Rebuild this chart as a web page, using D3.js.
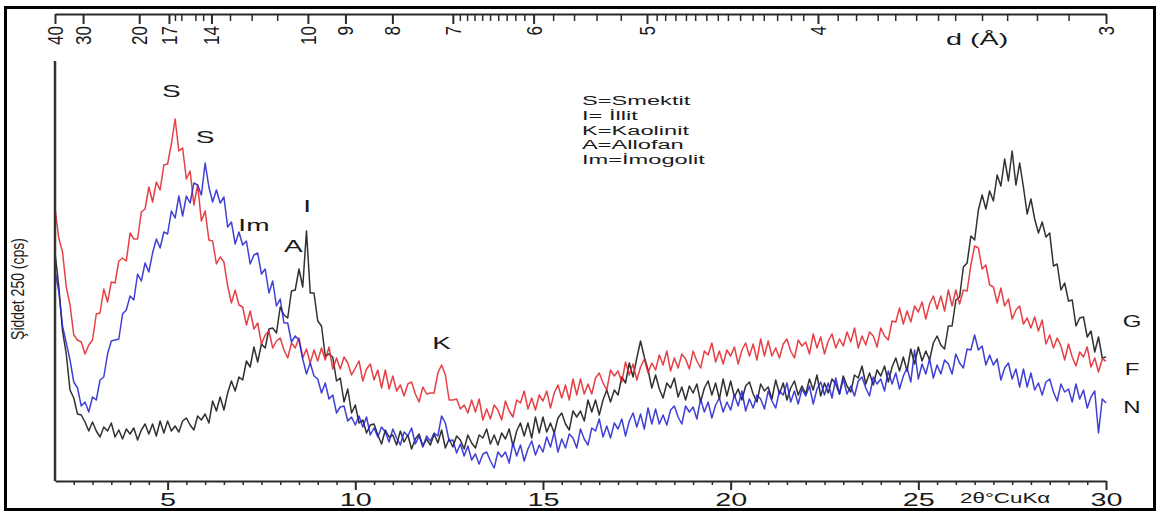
<!DOCTYPE html>
<html>
<head>
<meta charset="utf-8">
<script src="https://cdn.jsdelivr.net/npm/d3@7"></script>
<style>
  body { margin: 0; background: #fff; }
  svg { display: block; }
  text { font-family: "Liberation Sans", Arial, sans-serif; fill: #1a1a1a; }
  .domain, .tick line { stroke: #2a2a2a; }
</style>
</head>
<body>
<svg id="chart" width="1160" height="514"></svg>
<script>
// sampling grid of the scans, 2-theta in degrees (0.1 step)
const angles = d3.range(0, 281).map(i => 2 + i / 10);

// intensities (arbitrary units), one row per degree
const sampleG = [
  228,195,150,127,91,83,67,66,59,50,
  59,50,44,54,50,58,44,51,42,52,
  47,53,41,51,57,47,57,45,60,48,
  60,50,55,49,60,63,56,51,65,61,
  67,58,80,70,84,71,88,100,90,104,
  101,120,114,134,119,137,133,152,153,148,
  174,166,163,190,191,212,194,250,188,188,
  160,155,125,127,124,100,103,79,92,68,
  76,58,61,48,56,57,46,37,51,44,
  46,36,50,39,46,32,42,47,35,42,
  36,47,38,51,33,42,34,45,41,32,
  46,38,33,46,43,52,37,46,36,48,
  42,52,35,50,58,45,58,43,64,48,
  64,49,58,48,63,68,57,51,70,64,
  70,60,81,69,81,66,81,91,79,91,
  86,104,98,118,104,123,140,124,111,93,
  106,92,83,98,93,103,84,94,81,95,
  88,97,79,93,100,86,98,82,102,85,
  100,84,92,81,95,99,87,79,97,90,
  94,82,101,87,98,81,93,100,86,95,
  87,102,91,106,85,98,88,102,97,87,
  105,95,89,106,103,115,97,108,96,111,
  105,115,99,114,123,110,124,110,132,117,
  134,120,130,121,138,145,136,132,155,155,
  181,184,214,218,245,241,271,286,272,290,
  280,306,295,322,300,330,296,318,294,267,
  282,262,248,259,244,248,215,217,191,198,
  180,181,155,163,164,144,150,129,144,123,
  124
];

const sampleF = [
  273,243,229,194,176,146,141,139,127,136,
  141,167,168,192,179,199,198,220,223,220,
  248,242,242,269,272,294,279,299,291,316,
  317,337,362,330,333,302,310,276,296,260,
  270,241,240,217,224,219,195,178,191,176,
  174,156,170,152,158,137,146,150,133,140,
  143,131,123,138,133,143,123,132,118,131,
  120,133,121,134,112,123,112,124,118,106,
  113,120,100,112,117,101,111,93,111,92,
  105,90,96,85,97,99,87,79,94,87,
  88,88,108,116,106,81,81,82,72,76,
  68,81,69,82,61,72,62,76,71,61,
  80,70,64,81,78,90,72,83,71,86,
  80,90,73,88,96,83,96,81,102,86,
  102,87,97,87,103,108,98,91,111,105,
  110,99,119,106,117,101,114,122,108,118,
  111,126,116,130,110,123,113,127,122,112,
  130,120,113,130,126,138,119,130,117,131,
  125,134,117,131,138,125,137,121,142,125,
  140,125,133,123,137,142,130,123,141,135,
  139,127,147,133,144,127,140,147,133,142,
  135,149,139,153,133,145,136,149,145,134,
  153,145,141,160,159,173,157,170,159,175,
  169,179,162,177,185,172,185,170,191,175,
  191,177,191,190,216,235,233,212,216,196,
  194,178,193,175,182,162,171,175,157,163,
  153,164,150,161,137,146,133,143,135,121,
  137,124,115,129,124,134,114,123,109,122,
  120
];

const sampleN = [
  210,190,155,138,121,99,93,75,79,69,
  84,81,101,104,127,140,141,142,167,171,
  185,181,207,200,218,209,228,242,233,249,
  247,270,263,285,265,285,278,298,296,286,
  318,294,279,291,278,284,254,259,237,249,
  236,240,217,226,228,207,212,188,200,175,
  182,158,158,139,145,141,122,107,118,105,
  102,88,98,82,86,68,74,75,60,64,
  56,65,54,64,46,53,44,54,49,39,
  52,43,36,49,45,53,37,45,34,45,
  40,48,45,65,58,40,41,28,37,25,
  35,21,27,17,27,29,20,13,29,24,
  29,18,38,25,36,20,32,40,26,36,
  29,44,34,49,29,42,33,47,43,33,
  52,42,36,53,50,62,44,55,43,58,
  52,62,45,60,68,54,67,52,73,57,
  72,57,66,56,71,75,64,57,75,69,
  74,62,82,69,79,63,76,83,69,79,
  71,86,75,90,70,82,73,86,82,72,
  90,80,73,90,86,98,79,90,77,92,
  85,95,77,92,99,86,98,83,103,87,
  102,87,95,85,100,104,93,85,104,97,
  102,90,110,97,108,92,105,113,99,131,
  102,117,107,122,103,116,107,121,117,107,
  127,118,113,132,131,146,131,135,116,126,
  116,122,101,113,118,102,112,94,112,94,
  108,91,98,86,99,102,89,80,97,89,
  92,79,97,82,91,73,84,90,48,82,
  78
];

// bottom axis (2 theta) ticks
const bottomMajor = [5, 10, 15, 20, 25, 30];
const bottomMinor = d3.range(5, 60).map(v => v / 2).filter(v => v % 5 !== 0);

// top axis, d spacing in angstrom
const topMajor = [40, 30, 20, 17, 14, 10, 9, 8, 7, 6, 5, 4, 3];
const topMinor = [16.5, 16, 15, 14.5, 13, 12, 11,
  6.9, 6.8, 6.7, 6.6, 6.5, 6.4, 6.3, 6.2, 6.1,
  5.8, 5.6, 5.4, 5.2,
  4.93, 4.87, 4.8, 4.73, 4.67, 4.6, 4.53, 4.47, 4.4, 4.33, 4.27, 4.2, 4.13, 4.07,
  3.91, 3.83, 3.74, 3.67, 3.59, 3.51, 3.45, 3.36, 3.28, 3.19, 3.1];

const series = [
  { name: "G", values: sampleG, color: "#141414" },
  { name: "F", values: sampleF, color: "#e3262b" },
  { name: "N", values: sampleN, color: "#2525d2" }
];

const peakLabels = [
  { text: "S", at: 5.1, h: 384 },
  { text: "S", at: 6.0, h: 338 },
  { text: "Im", at: 7.3, h: 250 },
  { text: "A", at: 8.35, h: 229 },
  { text: "I", at: 8.72, h: 269 },
  { text: "K", at: 12.3, h: 132 }
];

const legendLines = ["S=Smektit", "I= İllit", "K=Kaolinit", "A=Allofan", "Im=İmogolit"];

const endLabels = [
  { name: "G", h: 154 },
  { name: "F", h: 106 },
  { name: "N", h: 68 }
];

const svg = d3.select("#chart");
const plotLeft = 55, plotRight = 1106, plotTop = 61, plotBottom = 481;
// the scanned figure has its lettering stretched sideways
const WIDE = 1.65;

const x = d3.scaleLinear().domain([2, 30]).range([plotLeft, plotRight]);
const y = d3.scaleLinear().domain([0, 420]).range([plotBottom, plotTop]);

// Cu K-alpha, Bragg: 2theta for a given d
const lambda = 1.5406;
const braggAngle = d => 2 * Math.asin(lambda / (2 * d)) * 180 / Math.PI;
const xTop = d3.scaleLinear().domain([braggAngle(40), braggAngle(3)]).range([plotLeft, plotRight]);

// outer frame
svg.append("rect")
  .attr("x", 5.5).attr("y", 7.5)
  .attr("width", 1149).attr("height", 502)
  .attr("fill", "none").attr("stroke", "#000").attr("stroke-width", 3);

// traces
const line = d3.line()
  .x((d, i) => x(angles[i]))
  .y(d => y(d));

svg.append("g").selectAll("path")
  .data(series)
  .join("path")
  .attr("d", d => line(d.values))
  .attr("fill", "none")
  .attr("stroke", d => d.color)
  .attr("stroke-width", 1.5)
  .attr("stroke-opacity", 0.88)
  .attr("stroke-linejoin", "round");

// left axis line, no ticks
svg.append("line")
  .attr("x1", plotLeft).attr("x2", plotLeft)
  .attr("y1", plotTop).attr("y2", plotBottom)
  .attr("stroke", "#333").attr("stroke-width", 2.5);

// bottom axis
const gBottom = svg.append("g").attr("transform", `translate(0,${plotBottom})`);
gBottom.append("g")
  .call(d3.axisBottom(x).tickValues(bottomMinor).tickSize(4).tickFormat(""))
  .call(g => g.select(".domain").remove())
  .selectAll("line").attr("stroke-width", 1.5);
gBottom.append("g")
  .call(d3.axisBottom(x).tickValues(bottomMajor).tickSize(9).tickSizeOuter(0).tickFormat(d3.format("d")))
  .call(g => g.select(".domain").attr("stroke-width", 2))
  .call(g => g.selectAll(".tick line").attr("stroke-width", 2))
  .call(g => g.selectAll("text")
    .attr("font-size", 18)
    .attr("fill", "#1a1a1a")
    .attr("transform", "scale(1.6,1)"));

svg.append("text")
  .attr("transform", "translate(960,503) scale(1.6,1)")
  .attr("font-size", 14)
  .text("2θ°CuKα");

// top axis (d spacing)
const gTop = svg.append("g").attr("transform", "translate(0,14)");
gTop.append("g")
  .call(d3.axisBottom(xTop).tickValues(topMinor.map(braggAngle)).tickSize(7).tickFormat(""))
  .call(g => g.select(".domain").remove())
  .selectAll("line").attr("stroke-width", 1.5);
gTop.append("g")
  .call(d3.axisBottom(xTop).tickValues(topMajor.map(braggAngle)).tickSize(10).tickSizeOuter(0)
    .tickFormat((v, i) => topMajor[i]))
  .call(g => g.select(".domain").attr("stroke-width", 2))
  .call(g => g.selectAll(".tick line").attr("stroke-width", 2))
  .call(g => g.selectAll("text")
    .attr("font-size", 17)
    .attr("fill", "#1a1a1a")
    .attr("transform", "scale(1.25,1) rotate(-90)")
    .attr("text-anchor", "end")
    .attr("x", -12).attr("y", 0).attr("dy", "0.35em"));

svg.append("text")
  .attr("transform", "translate(946,45) scale(1.8,1)")
  .attr("font-size", 16)
  .text("d (Å)");

// y label
svg.append("text")
  .attr("transform", "translate(24,289) scale(1.3,1) rotate(-90)")
  .attr("text-anchor", "middle")
  .attr("font-size", 14)
  .text("Şiddet 250 (cps)");

// peak labels
svg.append("g").selectAll("text")
  .data(peakLabels)
  .join("text")
  .attr("transform", d => `translate(${x(d.at)},${y(d.h)}) scale(${WIDE},1)`)
  .attr("text-anchor", "middle")
  .attr("font-size", 17)
  .text(d => d.text);

// mineral key
svg.append("g").selectAll("text")
  .data(legendLines)
  .join("text")
  .attr("transform", (d, i) => `translate(582,${105 + i * 14.8}) scale(1.75,1)`)
  .attr("font-size", 13.5)
  .text(d => d);

// sample names at right
svg.append("g").selectAll("text")
  .data(endLabels)
  .join("text")
  .attr("transform", d => `translate(1132,${y(d.h)}) scale(1.5,1)`)
  .attr("text-anchor", "middle")
  .attr("font-size", 16)
  .text(d => d.name);
</script>
</body>
</html>
